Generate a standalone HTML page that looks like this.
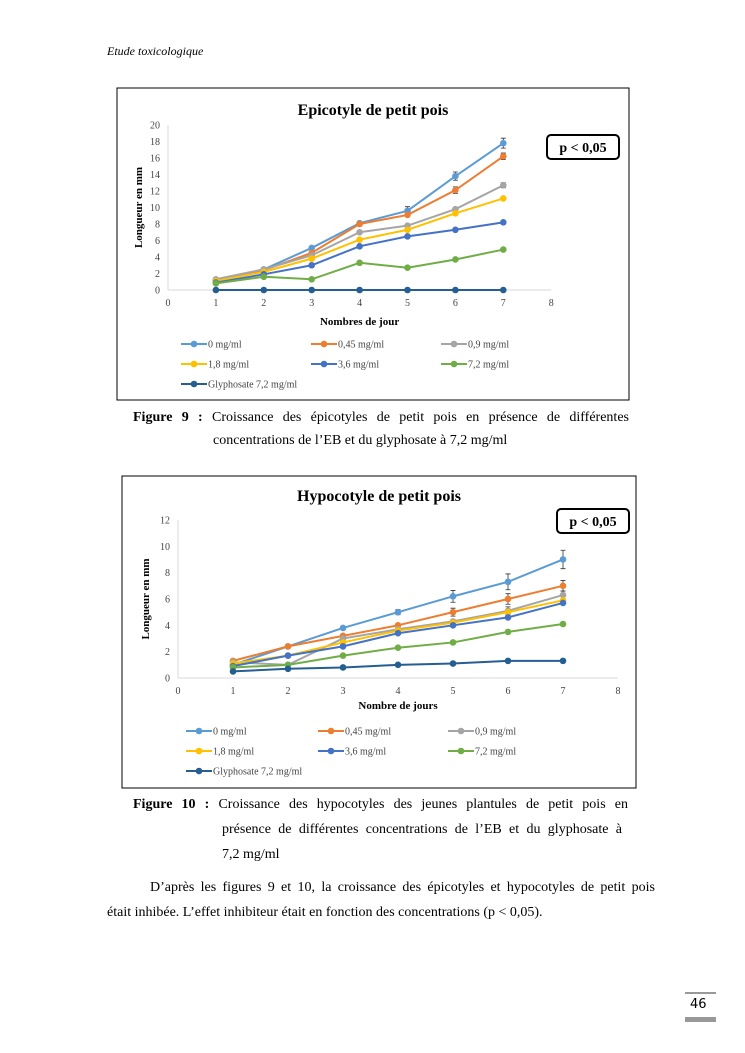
<!DOCTYPE html>
<html><head><meta charset="utf-8">
<style>
body{margin:0;background:#fff;}
#pg{position:relative;width:745px;height:1053px;overflow:hidden;font-family:"Liberation Serif",serif;color:#000;}
.t{position:absolute;white-space:nowrap;font-size:14px;}
.j{position:absolute;font-size:14px;text-align:justify;text-align-last:justify;white-space:normal;}
</style></head><body>
<div id="pg">
<div class="t" style="left:107px;top:44px;font-size:12px;font-style:italic;">Etude toxicologique</div>
<svg id="s" width="745" height="1053" style="position:absolute;left:0;top:0" font-family="Liberation Serif, serif"></svg>
<div class="j" style="left:133px;top:410px;width:496px;"><b>Figure 9 :</b> Croissance des épicotyles de petit pois en présence de différentes</div>
<div class="t" style="left:213px;top:433px;">concentrations de l’EB et du glyphosate à 7,2 mg/ml</div>
<div class="j" style="left:133px;top:797px;width:495px;"><b>Figure 10 :</b> Croissance des hypocotyles des jeunes plantules de petit pois en</div>
<div class="j" style="left:222px;top:822px;width:400px;">présence de différentes concentrations de l’EB et du glyphosate à</div>
<div class="t" style="left:222px;top:847px;">7,2 mg/ml</div>
<div class="j" style="left:150px;top:880px;width:505px;">D’après les figures 9 et 10, la croissance des épicotyles et hypocotyles de petit pois</div>
<div class="t" style="left:107px;top:905px;">était inhibée. L’effet inhibiteur était en fonction des concentrations (p &lt; 0,05).</div>
<div style="position:absolute;left:685px;top:992px;width:31px;height:2px;background:#999"></div>
<div class="t" style="left:690px;top:997px;font-family:'DejaVu Sans',sans-serif;font-size:13px;">46</div>
<div style="position:absolute;left:685px;top:1017px;width:31px;height:5px;background:#999"></div>
</div>
<script>
var cols=['#5b9bd5','#ed7d31','#a5a5a5','#ffc000','#4472c4','#70ad47','#255e91'];
var names=['0 mg/ml','0,45 mg/ml','0,9 mg/ml','1,8 mg/ml','3,6 mg/ml','7,2 mg/ml','Glyphosate 7,2 mg/ml'];
var h='';
function chart(c){
 h+='<rect x="'+c.bx+'" y="'+c.by+'" width="'+c.bw+'" height="'+c.bh+'" fill="#fff" stroke="#000" stroke-width="1"/>';
 h+='<text x="'+(c.bx+c.bw/2)+'" y="'+c.ty+'" text-anchor="middle" font-size="16" font-weight="bold">'+c.title+'</text>';
 var X=function(v){return c.x0+v*c.xs}, Y=function(v){return c.y0-v*c.ys};
 h+='<line x1="'+c.x0+'" y1="'+Y(c.ymax)+'" x2="'+c.x0+'" y2="'+c.y0+'" stroke="#d9d9d9"/>';
 h+='<line x1="'+c.x0+'" y1="'+c.y0+'" x2="'+X(8)+'" y2="'+c.y0+'" stroke="#d9d9d9"/>';
 for(var v=0;v<=c.ymax;v+=2)h+='<text x="'+(c.x0-8)+'" y="'+(Y(v)+3.5)+'" text-anchor="end" font-size="10" fill="#444">'+v+'</text>';
 for(var v=0;v<=8;v++)h+='<text x="'+X(v)+'" y="'+(c.y0+16)+'" text-anchor="middle" font-size="10" fill="#444">'+v+'</text>';
 h+='<text x="'+(c.x0+4*c.xs)+'" y="'+c.xly+'" text-anchor="middle" font-size="11" font-weight="bold">'+c.xl+'</text>';
 h+='<text transform="translate('+c.yly+','+((Y(c.ymax)+c.y0)/2)+') rotate(-90)" text-anchor="middle" font-size="11" font-weight="bold">Longueur en mm</text>';
 h+='<rect x="'+c.px+'" y="'+c.py+'" width="72" height="24" rx="4" fill="#fff" stroke="#000" stroke-width="2"/>';
 h+='<text x="'+(c.px+36)+'" y="'+(c.py+17)+'" text-anchor="middle" font-size="14" font-weight="bold">p &lt; 0,05</text>';
 for(var s=0;s<7;s++){
  var d=c.d[s],p='';
  for(var i=0;i<7;i++)p+=(i?'L':'M')+X(i+1)+' '+Y(d[i]);
  h+='<path d="'+p+'" fill="none" stroke="'+cols[s]+'" stroke-width="2"/>';
  for(var i=0;i<7;i++){
   if(c.e[s]&&c.e[s][i]){var e=c.e[s][i]*c.ys,xx=X(i+1),yy=Y(d[i]);h+='<path d="M'+xx+' '+(yy-e)+'V'+(yy+e)+'M'+(xx-2.5)+' '+(yy-e)+'h5M'+(xx-2.5)+' '+(yy+e)+'h5" stroke="#333" stroke-width="0.8"/>';}
   h+='<circle cx="'+X(i+1)+'" cy="'+Y(d[i])+'" r="3.3" fill="'+cols[s]+'"/>';
  }
  var lx=c.lx[s%3], ly=c.ly[Math.floor(s/3)];
  h+='<line x1="'+lx+'" y1="'+ly+'" x2="'+(lx+26)+'" y2="'+ly+'" stroke="'+cols[s]+'" stroke-width="2"/><circle cx="'+(lx+13)+'" cy="'+ly+'" r="3.3" fill="'+cols[s]+'"/>';
  h+='<text x="'+(lx+27)+'" y="'+(ly+3.5)+'" font-size="10" fill="#444">'+names[s]+'</text>';
 }
}
chart({bx:117,by:88,bw:512,bh:312,ty:115,title:'Epicotyle de petit pois',x0:168,xs:47.9,y0:290,ys:8.25,ymax:20,xl:'Nombres de jour',xly:325,yly:142,px:547,py:135,
 d:[[1.2,2.5,5.1,8.1,9.6,13.8,17.8],[1.2,2.4,4.5,8.0,9.1,12.1,16.2],[1.3,2.5,4.2,7.0,7.8,9.8,12.7],[1.1,2.2,3.8,6.1,7.3,9.3,11.1],[0.9,1.9,3.0,5.3,6.5,7.3,8.2],[0.8,1.6,1.3,3.3,2.7,3.7,4.9],[0,0,0,0,0,0,0]],
 e:[[0,0,0,0,0.5,0.5,0.6],[0,0,0,0,0,0.4,0.4],[0,0,0,0,0,0,0.3],null,null,null,null],
 lx:[181,311,441],ly:[344,364,384]});
chart({bx:122,by:476,bw:514,bh:312,ty:501,title:'Hypocotyle de petit pois',x0:178,xs:55,y0:678,ys:13.17,ymax:12,xl:'Nombre de jours',xly:709,yly:149,px:557,py:509,
 d:[[1.0,2.4,3.8,5.0,6.2,7.3,9.0],[1.3,2.4,3.2,4.0,5.0,6.0,7.0],[1.2,1.0,3.0,3.7,4.3,5.1,6.3],[1.1,1.7,2.7,3.6,4.2,5.0,5.9],[0.9,1.7,2.4,3.4,4.0,4.6,5.7],[0.8,1.0,1.7,2.3,2.7,3.5,4.1],[0.5,0.7,0.8,1.0,1.1,1.3,1.3]],
 e:[[0,0,0,0.2,0.45,0.6,0.7],[0,0,0,0,0.3,0.4,0.4],[0,0,0,0,0,0.3,0.3],null,null,null,null],
 lx:[186,318,448],ly:[731,751,771]});
document.getElementById('s').innerHTML=h;
</script>
</body></html>
